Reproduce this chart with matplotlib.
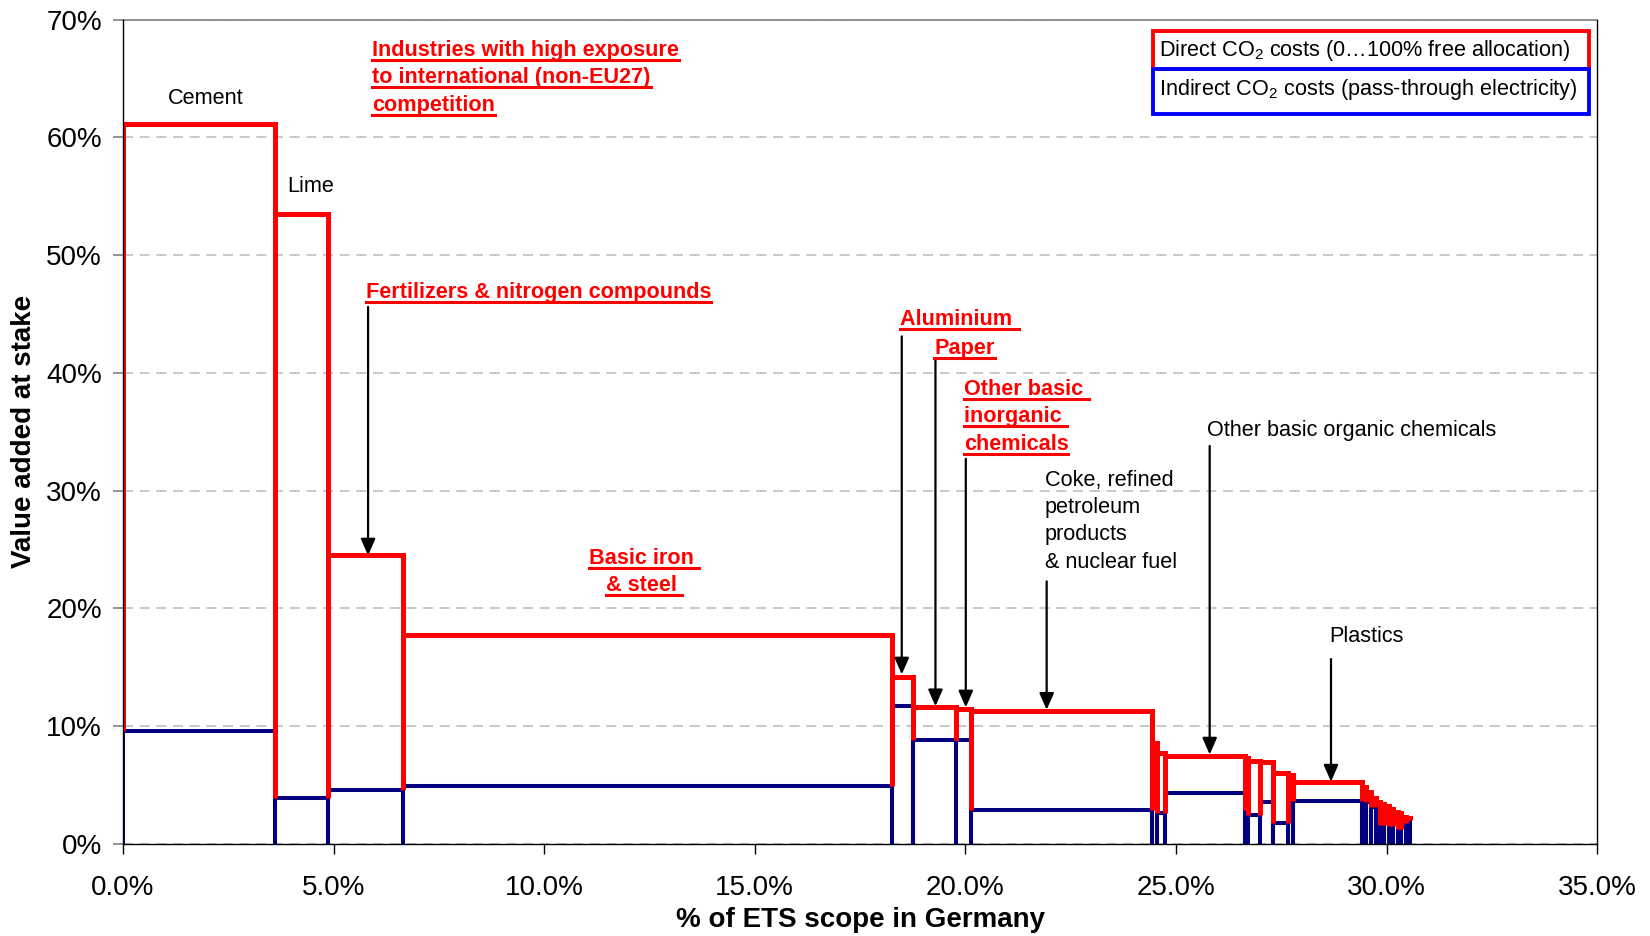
import matplotlib
matplotlib.use("Agg")
import matplotlib.pyplot as plt
import numpy as np
from matplotlib.lines import Line2D
from matplotlib.patches import Rectangle
from matplotlib.ticker import FuncFormatter
from matplotlib.transforms import IdentityTransform

plt.rcParams["font.family"] = ["Liberation Sans", "DejaVu Sans"]
plt.rcParams["mathtext.fontset"] = "custom"
plt.rcParams["mathtext.rm"] = "Liberation Sans"
plt.rcParams["mathtext.it"] = "Liberation Sans:italic"
plt.rcParams["mathtext.bf"] = "Liberation Sans:bold"

# sectors sorted by value added at stake
# width = share of ETS scope in Germany (%), heights = % of value added
widths = [3.62, 1.25, 1.77, 11.63, 0.49, 1.01, 0.37, 4.30, 0.12, 0.19,
          1.88, 0.08, 0.28, 0.31, 0.36, 0.12, 1.64,
          0.10, 0.10, 0.12, 0.10, 0.10, 0.12, 0.10, 0.10, 0.08, 0.12, 0.10]
indirect = [9.6, 3.9, 4.55, 4.9, 11.75, 8.84, 8.8, 2.89, 4.59, 2.61,
            4.31, 2.9, 2.46, 3.6, 1.81, 4.73, 3.68,
            4.2, 3.6, 3.1, 3.2, 1.6, 2.7, 1.5, 2.2, 1.3, 1.8, 2.0]
direct = [51.5, 49.6, 19.95, 12.85, 2.41, 2.76, 2.67, 8.44, 3.96, 5.15,
          3.19, 4.38, 4.62, 3.34, 4.19, 1.13, 1.61,
          0.6, 0.8, 0.8, 0.35, 1.8, 0.5, 1.45, 0.55, 1.3, 0.5, 0.2]

y_ticks = [0, 10, 20, 30, 40, 50, 60, 70]
x_ticks = [0, 5, 10, 15, 20, 25, 30, 35]

RED = "#FF0000"
NAVY = "#000080"

widths = np.array(widths)
indirect = np.array(indirect)
direct = np.array(direct)
lefts = np.concatenate([[0], np.cumsum(widths)[:-1]])
rights = lefts + widths
tops = indirect + direct

fig = plt.figure(figsize=(16.5, 9.36), dpi=100)
ax = fig.add_axes([0.0745, 0.0983, 0.8935, 0.8808])

nan = np.full_like(lefts, np.nan)
zero = np.zeros_like(lefts)
xs = np.column_stack([lefts, lefts, rights, rights, nan]).ravel()

# indirect costs: outlined boxes from zero (no bottom edge)
ys_ind = np.column_stack([zero, indirect, indirect, zero, nan]).ravel()
ax.plot(xs, ys_ind, color=NAVY, linewidth=2.9, zorder=3,
        solid_joinstyle="miter", solid_capstyle="butt")

# direct costs: stacked on top of the indirect part
ys_dir = np.column_stack([indirect, tops, tops, indirect, nan]).ravel()
ax.plot(xs, ys_dir, color=RED, linewidth=3.6, zorder=4,
        solid_joinstyle="miter", solid_capstyle="butt")

ax.set_xlim(0, 35)
ax.set_ylim(0, 70)
ax.set_xticks(x_ticks)
ax.set_yticks(y_ticks)
ax.xaxis.set_major_formatter(FuncFormatter(lambda v, p: f"{v:.1f}%"))
ax.yaxis.set_major_formatter(FuncFormatter(lambda v, p: f"{v:.0f}%"))
ax.tick_params(axis="both", labelsize=20)
ax.tick_params(axis="x", direction="out", length=7, width=1, pad=15)
ax.tick_params(axis="y", direction="out", length=7, width=1.2, color="#808080", pad=8)
ax.grid(axis="y", color="#BFBFBF", linestyle=(0, (6, 4)), linewidth=1.2, zorder=0)
ax.set_axisbelow(True)
for s in ["left", "bottom", "right"]:
    ax.spines[s].set_color("black")
    ax.spines[s].set_linewidth(1.0)
    ax.spines[s].set_zorder(5)
ax.spines["top"].set_color("#808080")
ax.spines["top"].set_linewidth(1.2)

ax.set_xlabel("% of ETS scope in Germany", fontsize=20, fontweight="bold")
ax.set_ylabel("Value added at stake", fontsize=20, fontweight="bold")
ax.xaxis.set_label_coords(0.5, -0.077)
ax.yaxis.set_label_coords(-0.058, 0.5)

underlined = []


def label(x, y, lines, color="black", bold=False, underline=False, ha="left", step=2.33):
    for k, line in enumerate(lines):
        t = ax.text(x, y - k * step, line, color=color, fontsize=15.6,
                    fontweight="bold" if bold else "normal", ha=ha, va="center", zorder=6)
        if underline:
            underlined.append(t)


def arrow(x, y0, y1):
    ax.annotate("", xy=(x, y1), xytext=(x, y0),
                arrowprops=dict(arrowstyle="-|>,head_length=0.5,head_width=0.22",
                                color="black", lw=1.6, mutation_scale=20,
                                shrinkA=0, shrinkB=0), zorder=6)


label(1.97, 63.3, ["Cement"], ha="center")
label(3.9, 55.8, ["Lime"])
label(5.92, 67.4, ["Industries with high exposure", "to international (non-EU27)", "competition"],
      color=RED, bold=True, underline=True)
label(5.77, 46.8, ["Fertilizers & nitrogen compounds"], color=RED, bold=True, underline=True)
arrow(5.82, 45.6, 24.5)
label(12.37, 24.25, ["Basic iron ", "& steel "], color=RED, bold=True, underline=True, ha="center")
label(18.46, 44.5, ["Aluminium "], color=RED, bold=True, underline=True)
arrow(18.49, 43.1, 14.4)
label(19.26, 42.1, ["Paper"], color=RED, bold=True, underline=True)
arrow(19.29, 41.1, 11.7)
label(19.96, 38.6, ["Other basic ", "inorganic ", "chemicals"], color=RED, bold=True, underline=True)
arrow(20.01, 32.7, 11.6)
label(21.88, 30.9, ["Coke, refined", "petroleum", "products", "& nuclear fuel"])
arrow(21.93, 22.3, 11.4)
label(25.73, 35.1, ["Other basic organic chemicals"])
arrow(25.8, 33.8, 7.6)
label(28.63, 17.6, ["Plastics"])
arrow(28.68, 15.7, 5.3)

# legend boxes
ax.add_patch(Rectangle((0.6985, 0.940), 0.2957, 0.046, transform=ax.transAxes,
                       fill=False, edgecolor=RED, linewidth=2.8, zorder=7, clip_on=False))
ax.add_patch(Rectangle((0.6985, 0.8853), 0.2957, 0.0547, transform=ax.transAxes,
                       fill=False, edgecolor="#0000FF", linewidth=2.8, zorder=7, clip_on=False))
ax.text(0.703, 0.9625, "Direct CO$_2$ costs (0\u2026100% free allocation)", transform=ax.transAxes,
        fontsize=15.6, va="center", ha="left", zorder=8)
ax.text(0.703, 0.915, "Indirect CO$_2$ costs (pass-through electricity)", transform=ax.transAxes,
        fontsize=15.6, va="center", ha="left", zorder=8)

# underline the red labels
fig.canvas.draw()
renderer = fig.canvas.get_renderer()
for t in underlined:
    bb = t.get_window_extent(renderer)
    fig.add_artist(Line2D([bb.x0, bb.x1], [bb.y0 + 1, bb.y0 + 1], color=t.get_color(),
                          linewidth=2.2, transform=IdentityTransform()))

fig.savefig("out.png", dpi=100)
